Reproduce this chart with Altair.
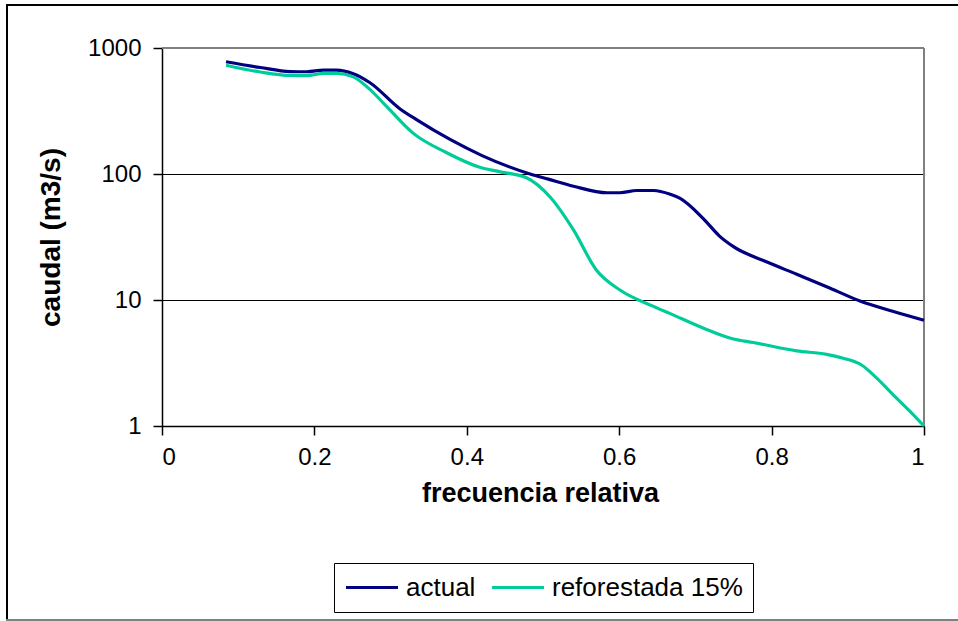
import altair as alt
import pandas as pd

# Relative frequency of exceedance and discharge (m3/s) for each scenario
freq_actual = [0.084, 0.129, 0.168, 0.19, 0.212, 0.229, 0.251, 0.273, 0.312, 0.334,
               0.378, 0.42, 0.483, 0.507, 0.54, 0.584, 0.601, 0.623, 0.645, 0.667,
               0.68, 0.71, 0.732, 0.75, 0.794, 0.833, 0.877, 0.916, 0.96, 1.0]
caudal_actual = [778, 700, 650, 648, 668, 668, 625, 530, 330, 270,
                 188, 140, 100, 91, 80, 71, 71, 74, 74, 69,
                 64, 44.5, 32, 26.5, 20, 16, 12.4, 9.8, 8.1, 6.9]

freq_refor = [0.084, 0.129, 0.168, 0.19, 0.212, 0.229, 0.251, 0.271, 0.295, 0.329,
              0.373, 0.417, 0.444, 0.479, 0.509, 0.54, 0.57, 0.601, 0.645, 0.667,
              0.71, 0.75, 0.776, 0.833, 0.872, 0.894, 0.918, 0.938, 0.96, 0.982, 1.0]
caudal_refor = [730, 645, 605, 603, 630, 630, 590, 480, 342, 212,
                148, 113, 104, 93, 66, 36, 17.3, 12, 8.9, 7.8,
                6.0, 4.9, 4.6, 3.95, 3.7, 3.45, 3.05, 2.4, 1.76, 1.3, 1.0]

series_names = ["actual", "reforestada 15%"]
series_colors = ["#000080", "#00CC99"]
y_ticks = [1, 10, 100, 1000]
x_ticks = [0, 0.2, 0.4, 0.6, 0.8, 1.0]

df = pd.concat([
    pd.DataFrame({"frecuencia": freq_actual, "caudal": caudal_actual, "serie": series_names[0]}),
    pd.DataFrame({"frecuencia": freq_refor, "caudal": caudal_refor, "serie": series_names[1]}),
])

FONT = "Liberation Sans"
W, H = 762, 378
PAD_L, PAD_T = 162, 48

lines = alt.Chart(df).mark_line(strokeWidth=3.2, interpolate="monotone").encode(
    x=alt.X("frecuencia:Q",
            scale=alt.Scale(domain=[0, 1], nice=False, zero=False),
            axis=alt.Axis(values=x_ticks, format="~g", grid=False,
                          title="frecuencia relativa",
                          titleX=W / 2 - 3, titleY=67, titleBaseline="middle",
                          titleFontSize=27, titleFontWeight="bold",
                          labelFontSize=24, labelPadding=10, tickSize=9)),
    y=alt.Y("caudal:Q",
            scale=alt.Scale(type="log", domain=[1, 1000], nice=False),
            axis=alt.Axis(values=y_ticks, format="d", grid=True,
                          title="caudal (m3/s)",
                          titleX=-111, titleY=H / 2, titleAngle=-90,
                          titleBaseline="middle", titleAlign="center",
                          titleFontSize=28, titleFontWeight="bold",
                          labelFontSize=24, labelPadding=12, tickSize=9)),
    color=alt.Color("serie:N",
                    scale=alt.Scale(domain=series_names, range=series_colors),
                    legend=alt.Legend(orient="none", legendX=172, legendY=515,
                                      direction="horizontal", title=None,
                                      symbolType="stroke", symbolSize=2700,
                                      symbolStrokeWidth=3.2, labelFontSize=26,
                                      labelFont=FONT, labelColor="black",
                                      labelLimit=400, clipHeight=29,
                                      labelOffset=6, columnPadding=14,
                                      strokeColor="black", fillColor="white",
                                      padding=10)),
)

one = alt.Data(values=[{"k": 0}])

# Plot-area border: grey top and right edges
plot_border = alt.layer(
    alt.Chart(one).mark_rule(color="#808080", strokeWidth=2).encode(
        x=alt.value(0), x2=alt.value(W), y=alt.value(0)),
    alt.Chart(one).mark_rule(color="#808080", strokeWidth=2).encode(
        x=alt.value(W), y=alt.value(0), y2=alt.value(H)),
)

# Outer chart frame
frame = alt.layer(
    alt.Chart(one).mark_rule(color="black", strokeWidth=2).encode(
        x=alt.value(-155), y=alt.value(-43), y2=alt.value(572)),
    alt.Chart(one).mark_rule(color="black", strokeWidth=2).encode(
        x=alt.value(-156), x2=alt.value(W + 40), y=alt.value(-43)),
    alt.Chart(one).mark_rule(color="#808080", strokeWidth=2).encode(
        x=alt.value(-156), x2=alt.value(W + 40), y=alt.value(572)),
)

chart = alt.layer(plot_border, lines, frame).properties(
    width=W, height=H,
    autosize=alt.AutoSizeParams(type="none"),
    padding={"left": PAD_L, "top": PAD_T, "right": 958 - PAD_L - W, "bottom": 621 - PAD_T - H},
    background="white",
).configure_view(stroke="transparent").configure_axis(
    labelFont=FONT, titleFont=FONT, labelColor="black", titleColor="black",
    domainColor="black", domainWidth=1.5, tickColor="black", tickWidth=1.5,
    gridColor="black", gridWidth=1, gridOpacity=1,
)

chart.save("out.html", embed_options={"renderer": "svg", "actions": False})
